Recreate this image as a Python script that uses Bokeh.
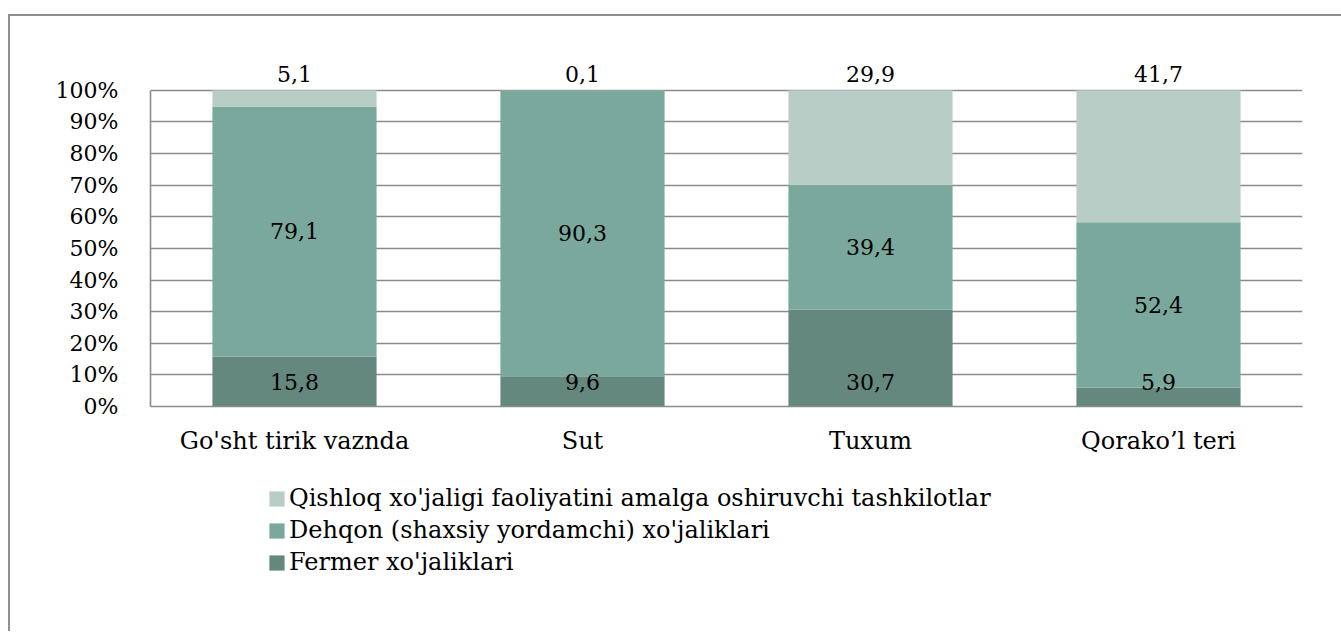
from bokeh.plotting import figure
from bokeh.layouts import column
from bokeh.models import ColumnDataSource, Range1d, FactorRange, FixedTicker, PrintfTickFormatter, Legend, LegendItem
from bokeh.core.properties import value
from bokeh.embed import file_html
from bokeh.resources import INLINE

categories = ["Go'sht tirik vaznda", "Sut", "Tuxum", "Qorako\u2019l teri"]
fermer = [15.8, 9.6, 30.7, 5.9]
dehqon = [79.1, 90.3, 39.4, 52.4]
qishloq = [5.1, 0.1, 29.9, 41.7]
y_ticks = [0, 10, 20, 30, 40, 50, 60, 70, 80, 90, 100]
series_names = [
    "Qishloq xo'jaligi faoliyatini amalga oshiruvchi tashkilotlar",
    "Dehqon (shaxsiy yordamchi) xo'jaliklari",
    "Fermer xo'jaliklari",
]

FONT = "DejaVu Serif"
FS_NUM = "22px"
FS_TXT = "24px"
c_light = "#b7cdc6"
c_mid = "#7ba89c"
c_dark = "#65887e"
grid_c = "#8c8c8c"

def fmt(v):
    return f"{v:.1f}".replace(".", ",")

t1 = list(fermer)
t2 = [a + b for a, b in zip(fermer, dehqon)]
t3 = [a + b for a, b in zip(t2, qishloq)]

src = ColumnDataSource(dict(
    cat=categories,
    b0=[0] * 4, t1=t1, t2=t2, t3=t3,
    l_fer=[fmt(v) for v in fermer],
    l_deh=[fmt(v) for v in dehqon],
    l_qis=[fmt(v) for v in qishloq],
    y_deh=[a + b / 2 for a, b in zip(fermer, dehqon)],
    y_top=t3,
))

W = 1331
H1 = 450
H2 = 165

p = figure(width=W, height=H1, x_range=FactorRange(*categories, range_padding=0),
           y_range=Range1d(0, 111), output_backend="svg", toolbar_location=None,
           min_border_left=140, min_border_right=39, min_border_top=39, min_border_bottom=60)
p.outline_line_color = None

w = 0.57
p.vbar(x="cat", bottom="b0", top="t1", width=w, fill_color=c_dark, line_color=None, source=src)
p.vbar(x="cat", bottom="t1", top="t2", width=w, fill_color=c_mid, line_color=None, source=src)
p.vbar(x="cat", bottom="t2", top="t3", width=w, fill_color=c_light, line_color=None, source=src)

tk = dict(text_font=value(FONT), text_font_size=FS_NUM, text_color="#000000", text_align="center", text_baseline="middle")
p.text(x="cat", y="b0", text="l_fer", y_offset=-25, source=src, **tk)
p.text(x="cat", y="y_deh", text="l_deh", source=src, **tk)
p.text(x="cat", y="y_top", text="l_qis", y_offset=-16, source=src, **tk)

p.yaxis.ticker = FixedTicker(ticks=y_ticks)
p.yaxis.bounds = (0, 100)
p.yaxis.formatter = PrintfTickFormatter(format="%d%%")
p.ygrid.ticker = FixedTicker(ticks=y_ticks)
p.ygrid.grid_line_color = grid_c
p.ygrid.grid_line_width = 1.6
p.xgrid.grid_line_color = None

for ax in (p.xaxis, p.yaxis):
    ax.axis_line_color = grid_c
    ax.axis_line_width = 1.6
    ax.major_tick_line_color = None
    ax.minor_tick_line_color = None
    ax.major_label_text_font = FONT
    ax.major_label_text_color = "#000000"
p.yaxis.major_label_text_font_size = FS_NUM
p.xaxis.major_label_text_font_size = FS_TXT
p.yaxis.major_label_standoff = 26
p.xaxis.major_label_standoff = 14

# legend figure (hidden copies of the series supply the legend swatches)
p2 = figure(width=W, height=H2, x_range=FactorRange(*categories, range_padding=0), y_range=Range1d(0, 111),
            output_backend="svg", toolbar_location=None, x_axis_type=None, y_axis_type=None,
            min_border=0)
p2.outline_line_color = None
p2.grid.visible = False
l_dark = p2.vbar(x="cat", bottom="b0", top="t1", width=w, fill_color=c_dark, line_color=None, source=src, visible=False)
l_mid = p2.vbar(x="cat", bottom="t1", top="t2", width=w, fill_color=c_mid, line_color=None, source=src, visible=False)
l_light = p2.vbar(x="cat", bottom="t2", top="t3", width=w, fill_color=c_light, line_color=None, source=src, visible=False)

legend = Legend(items=[
    LegendItem(label=series_names[0], renderers=[l_light]),
    LegendItem(label=series_names[1], renderers=[l_mid]),
    LegendItem(label=series_names[2], renderers=[l_dark]),
], location=(117, 55), orientation="vertical")
legend.label_text_font = FONT
legend.label_text_font_size = FS_TXT
legend.label_text_color = "#000000"
legend.glyph_width = 19
legend.glyph_height = 19
legend.label_height = 28
legend.spacing = 4
legend.label_standoff = 3
legend.padding = 0
legend.margin = 0
legend.border_line_color = None
legend.background_fill_alpha = 0
legend.inactive_fill_alpha = 0
p2.add_layout(legend, "center")

layout = column(p, p2, spacing=0)
layout.styles = {"border-top": "2px solid #8f8f8f", "border-left": "2px solid #8f8f8f",
                 "margin-top": "14px", "margin-left": "8px"}

open("out.html", "w").write(file_html(layout, INLINE))
